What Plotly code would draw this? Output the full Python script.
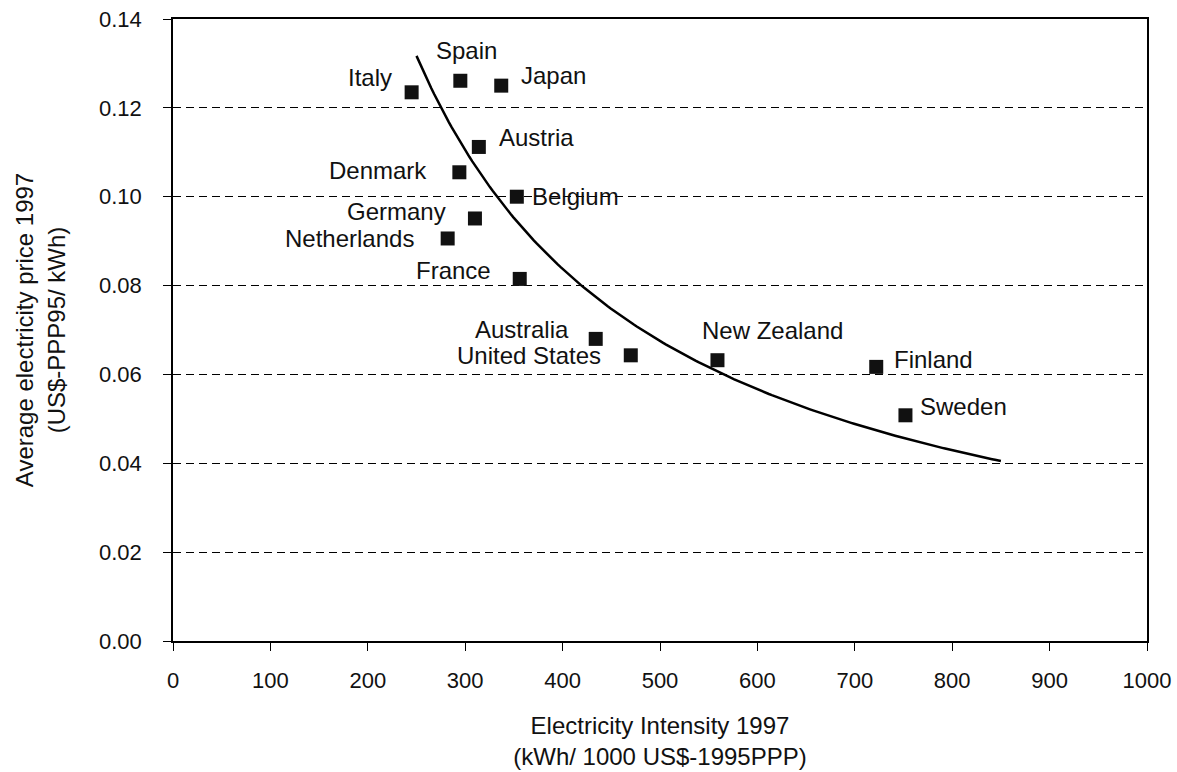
import numpy as np
import plotly.graph_objects as go

countries = ["Italy", "Spain", "Japan", "Austria", "Denmark", "Belgium", "Germany",
             "Netherlands", "France", "Australia", "United States", "New Zealand",
             "Finland", "Sweden"]
intensity = [245, 295, 337, 314, 294, 353, 310, 282, 356, 434, 470, 559, 722, 752]
price = [0.1235, 0.1261, 0.1250, 0.1112, 0.1055, 0.1000, 0.0951, 0.0906, 0.0815,
         0.0680, 0.0643, 0.0632, 0.0617, 0.0508]

# power trendline  price = coef * intensity ** exponent, drawn over 250..850
trend_coef = 26.93
trend_exp = -0.9636
trend_range = [250, 850]

# label offsets (px) and horizontal anchor for each country label
label_shift = {
    "Italy": (-18, 15, "right"), "Spain": (6, 30, "center"), "Japan": (18, 10, "left"),
    "Austria": (18, 9, "left"), "Denmark": (-30, 2, "right"), "Belgium": (13, 0, "left"),
    "Germany": (-27, 7, "right"), "Netherlands": (-32, 0, "right"), "France": (-27, 8, "right"),
    "Australia": (-25, 9, "right"), "United States": (-28, 0, "right"),
    "New Zealand": (-17, 30, "left"), "Finland": (16, 7, "left"), "Sweden": (13, 9, "left"),
}

trend_x = np.linspace(trend_range[0], trend_range[1], 200)
trend_y = trend_coef * trend_x ** trend_exp

font_family = "Liberation Sans, Arial, sans-serif"

fig = go.Figure()
fig.add_trace(go.Scatter(x=trend_x, y=trend_y, mode="lines",
                         line=dict(color="black", width=2.5), hoverinfo="skip"))
fig.add_trace(go.Scatter(x=intensity, y=price, mode="markers",
                         marker=dict(symbol="square", size=14, color="#111111"),
                         text=countries))

for name, xv, yv in zip(countries, intensity, price):
    dx, dy, anchor = label_shift[name]
    fig.add_annotation(x=xv, y=yv, text=name, showarrow=False, xanchor=anchor,
                       yanchor="middle", xshift=dx, yshift=dy,
                       font=dict(size=24, color="#111111", family=font_family))

fig.update_layout(
    width=1177, height=772,
    margin=dict(l=173, r=30, t=19, b=131),
    paper_bgcolor="white", plot_bgcolor="white",
    showlegend=False,
    font=dict(family=font_family, size=22, color="#111111"),
)
fig.update_xaxes(
    range=[0, 1000], tickmode="linear", tick0=0, dtick=100, automargin=False,
    showgrid=False, showline=True, linecolor="black", linewidth=1.5, mirror=True,
    ticks="outside", ticklen=8, tickcolor="black", ticklabelstandoff=11,
    tickfont=dict(size=22), zeroline=False,
    title=dict(text="Electricity Intensity 1997<br>(kWh/ 1000 US$-1995PPP)",
               font=dict(size=24), standoff=25),
)
fig.update_yaxes(
    range=[0, 0.14], tickmode="linear", tick0=0, dtick=0.02, tickformat=".2f",
    automargin=False,
    showgrid=True, gridcolor="black", gridwidth=1, griddash="8px,5px",
    showline=True, linecolor="black", linewidth=1.5, mirror=True,
    ticks="outside", ticklen=8, tickcolor="black", ticklabelstandoff=17,
    tickfont=dict(size=22), zeroline=False,
    title=dict(text="Average electricity price 1997<br>(US$-PPP95/ kWh)",
               font=dict(size=24), standoff=27),
)

fig.write_html("out.html")
